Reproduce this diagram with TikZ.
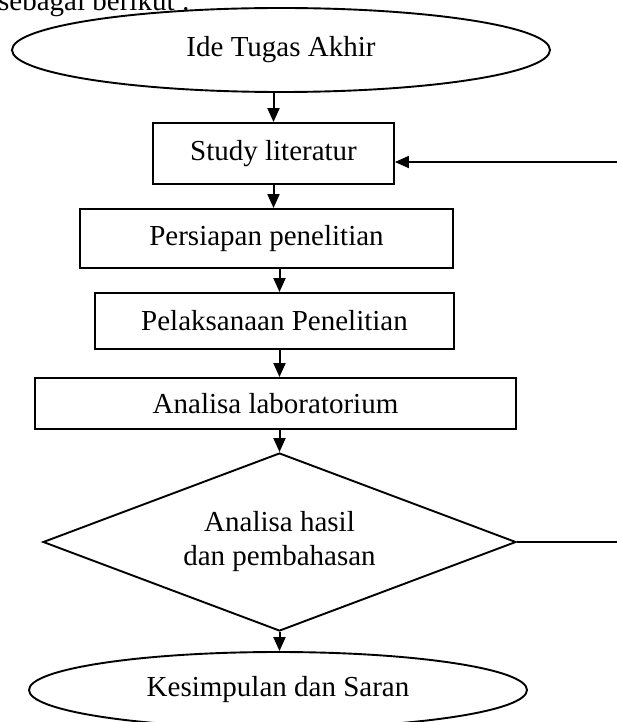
\documentclass[tikz,border=0pt]{standalone}
\usepackage{fontspec}
\setmainfont{Liberation Serif}
\usetikzlibrary{shapes.geometric,arrows.meta}
\begin{document}
\begin{tikzpicture}[x=1pt,y=-1pt,
  every node/.style={font=\fontsize{29}{34}\selectfont, inner sep=0pt},
  shp/.style={draw, line width=1.9pt},
  boxnode/.style={shp, rectangle},
  ovalnode/.style={shp, ellipse},
  decnode/.style={shp, diamond, align=center},
  conn/.style={line width=2pt},
  arr/.style={conn, -{Triangle[length=14pt,width=12pt]}}]
\useasboundingbox (0,0) rectangle (617,722);
\node[anchor=base west] (intro) at (-2,11) {sebagai berikut :};
\node[ovalnode, minimum width=538pt, minimum height=84pt] (ide) at (281,50) {Ide Tugas Akhir};
\node[boxnode, minimum width=241pt, minimum height=61pt] (study) at (273.5,153.5) {Study literatur};
\node[boxnode, minimum width=373pt, minimum height=59pt] (persiapan) at (266.5,238.5) {Persiapan penelitian};
\node[boxnode, minimum width=359pt, minimum height=56pt] (pelaksanaan) at (274.5,321) {Pelaksanaan Penelitian};
\node[boxnode, minimum width=481pt, minimum height=51pt] (lab) at (275.5,403.5) {Analisa laboratorium};
\node[decnode, minimum width=473pt, minimum height=178pt, aspect=2.66] (dia) at (279.5,542) {Analisa hasil\\dan pembahasan};
\node[ovalnode, minimum width=498pt, minimum height=76pt] (kes) at (278,690) {Kesimpulan dan Saran};
\coordinate (fbin) at (617,162);
\coordinate (fbout) at (617,542);
\draw[arr] (study.north |- ide.south) -- (study.north);
\draw[arr] (study.south) -- (study.south |- persiapan.north);
\draw[arr] (dia.north |- persiapan.south) -- (dia.north |- pelaksanaan.north);
\draw[arr] (dia.north |- pelaksanaan.south) -- (dia.north |- lab.north);
\draw[arr] (dia.north |- lab.south) -- (dia.north);
\draw[arr] (dia.south) -- (dia.south |- kes.north);
\draw[arr] (fbin) -- (fbin -| study.east);
\draw[conn] (dia.east) -- (fbout);
\end{tikzpicture}
\end{document}
